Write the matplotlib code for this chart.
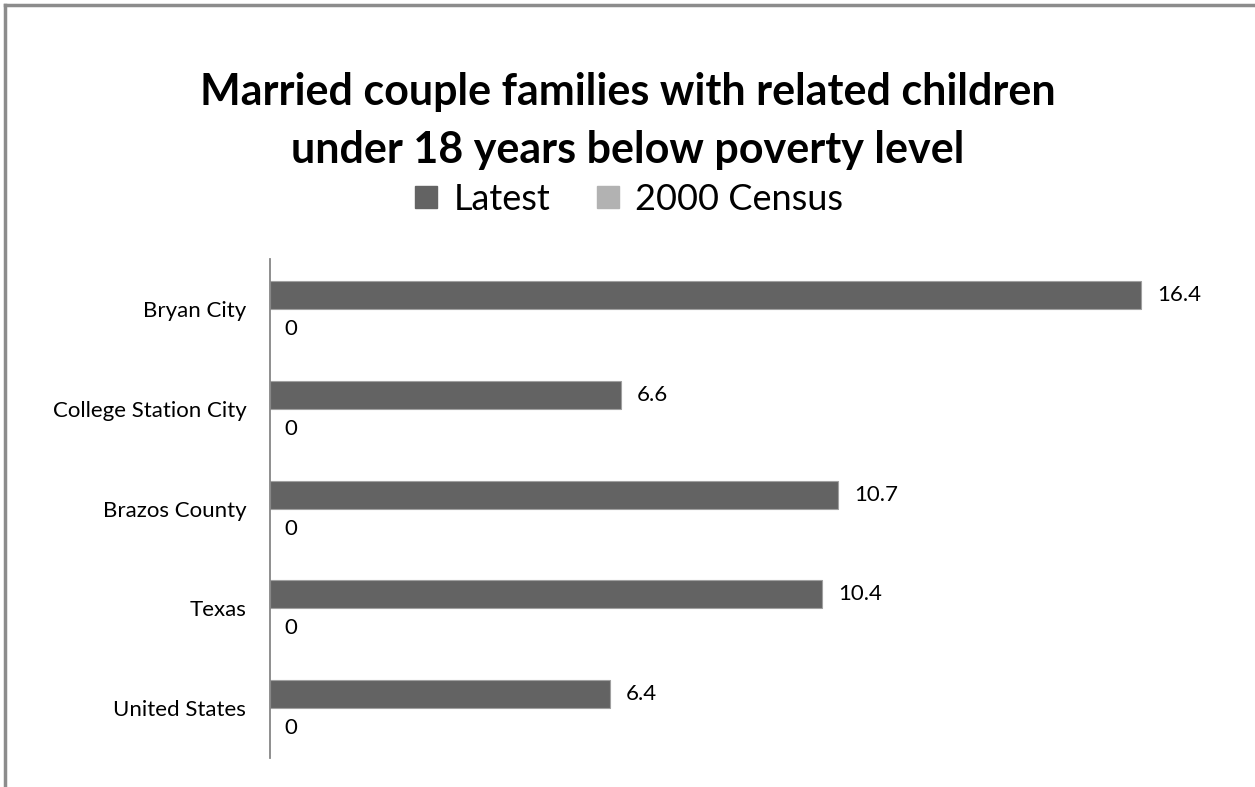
import matplotlib.pyplot as plt
import numpy as np
from matplotlib.lines import Line2D

plt.rcParams['font.family'] = ['Lato', 'DejaVu Sans']

places = ["Bryan City", "College Station City", "Brazos County", "Texas", "United States"]
latest = [16.4, 6.6, 10.7, 10.4, 6.4]
census_2000 = [0, 0, 0, 0, 0]

dark = "#636363"
light = "#b2b2b2"

fig = plt.figure(figsize=(12.55, 7.87), dpi=100)
ax = fig.add_axes([0.2151, 0.0368, 0.7618, 0.634])

y = np.arange(len(places))
h = 0.28
ax.barh(y - h / 2, latest, height=h, color=dark, edgecolor="#a0a0a0", linewidth=0.8, label="Latest")
ax.barh(y + h / 2, census_2000, height=h, color=light, label="2000 Census")

# value labels
for yi, v in zip(y, latest):
    ax.text(v + 0.3, yi - h / 2, f"{v:g}", va="center", ha="left", fontsize=16)
for yi, v in zip(y, census_2000):
    ax.text(v + 0.28, yi + h / 2 + 0.06, f"{v:g}", va="center", ha="left", fontsize=16)

ax.set_xlim(0, 18)
ax.set_ylim(len(places) - 0.5, -0.5)
ax.set_yticks(y)
ax.set_yticklabels(places, fontsize=16)
ax.tick_params(axis="y", length=0, pad=17)
ax.set_xticks([])
for s in ["top", "right", "bottom"]:
    ax.spines[s].set_visible(False)
ax.spines["left"].set_color("#868686")
ax.spines["left"].set_linewidth(1.3)

fig.text(0.5, 0.846, "Married couple families with related children\nunder 18 years below poverty level",
         ha="center", va="center", fontsize=31, fontweight="bold", linespacing=1.55)

handles = [Line2D([], [], marker="s", linestyle="none", markersize=16, color=dark),
           Line2D([], [], marker="s", linestyle="none", markersize=16, color=light)]
fig.legend(handles, ["Latest", "2000 Census"], loc="center", bbox_to_anchor=(0.5, 0.747),
           ncol=2, frameon=False, fontsize=26, handlelength=0.8, handletextpad=0.35,
           columnspacing=1.2)

# chart frame edges
fig.add_artist(Line2D([0.004, 1], [0.994, 0.994], color="#8c8c8c", linewidth=2.5,
                      transform=fig.transFigure))
fig.add_artist(Line2D([0.004, 0.004], [0, 0.994], color="#8c8c8c", linewidth=2.5,
                      transform=fig.transFigure))

fig.savefig("out.png", dpi=100)
